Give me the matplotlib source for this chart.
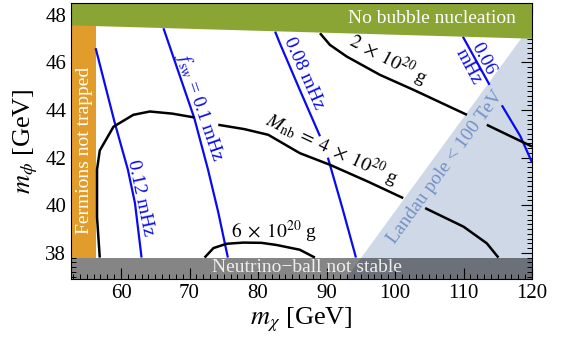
import numpy as np
import matplotlib.pyplot as plt
from matplotlib.ticker import MultipleLocator

plt.rcParams['font.family'] = ['Liberation Serif', 'DejaVu Serif']
plt.rcParams['mathtext.fontset'] = 'stix'

# plot window [GeV]
X_RANGE = (52.7, 120.0)
Y_RANGE = (36.9, 48.5)

# excluded / shaded regions
NO_NUCL_X = [52.7, 120.0]
NO_NUCL_Y = [47.58, 47.02]
NOT_TRAPPED_X = 56.3
NB_UNSTABLE_Y = 37.8
LANDAU_X = [92.8, 122.2]
LANDAU_Y = [36.9, 48.5]

# f_sw contours, each a list of segments of (m_chi, m_phi)
FSW_012 = [[(56.3, 46.6), (59.1, 43.45), (61.0, 41.5), (62.04, 40.09), (63.0, 37.8)]]
FSW_010 = [[(66.2, 47.44), (70.7, 43.66), (72.7, 41.5), (74.2, 39.7), (75.6, 37.8)]]
FSW_008 = [[(82.5, 47.3), (83.2, 46.8), (86.1, 44.85), (89.05, 42.9)],
           [(90.2, 42.0), (92.3, 39.9), (94.3, 37.8)]]
FSW_006 = [[(109.9, 47.09), (113.8, 45.06)],
           [(115.6, 44.2), (118.3, 42.9), (120.0, 41.8)]]

# neutrino-ball mass contours
MNB_2 = [[(89.05, 47.23), (90.5, 46.74), (92.95, 46.25), (97.8, 45.48),
          (102.7, 44.85), (110.5, 43.8)],
         [(113.4, 43.38), (116.5, 42.95), (120.0, 42.47)]]
MNB_4 = [[(56.9, 37.8), (56.5, 39.5), (56.5, 41.5), (56.9, 42.3), (58.9, 43.3),
          (61.8, 43.8), (64.2, 43.94), (67.5, 43.85), (70.7, 43.69)],
         [(74.2, 43.38), (78.0, 43.2), (81.5, 42.96), (86.1, 42.19),
          (90.5, 41.7), (96.0, 41.0), (101.2, 40.3)],
         [(104.4, 39.88), (110.0, 39.1), (113.4, 38.4), (115.1, 37.8)]]
MNB_6 = [[(72.2, 37.8), (73.5, 38.2), (75.4, 38.38), (77.85, 38.43),
          (80.5, 38.42), (82.7, 38.33), (86.1, 38.13), (88.3, 37.8)]]

BLUE = '#0a0af0'
GREEN = '#8ba535'
ORANGE = '#e29c2b'
LANDAU = '#cfd8e7'
LANDAU_TXT = '#7391c6'


def draw_segments(ax, segments, color, lw):
    for seg in segments:
        seg = np.array(seg)
        ax.plot(seg[:, 0], seg[:, 1], color=color, lw=lw, zorder=4,
                solid_capstyle='butt')


fig = plt.figure(figsize=(5.69, 3.39), dpi=100)
ax = fig.add_axes([71/569, 1 - 279/339, 461/569, 276/339])

# shaded regions
ax.fill([LANDAU_X[0], LANDAU_X[1], 130, 130], [LANDAU_Y[0], LANDAU_Y[1], LANDAU_Y[1], LANDAU_Y[0]],
        color=LANDAU, lw=0, zorder=1)
ax.fill_between([X_RANGE[0], NOT_TRAPPED_X], NB_UNSTABLE_Y, 48, color=ORANGE, lw=0, zorder=2)
ax.fill_between(NO_NUCL_X, NO_NUCL_Y, Y_RANGE[1], color=GREEN, lw=0, zorder=6)
ax.axhspan(Y_RANGE[0], NB_UNSTABLE_Y, color='black', alpha=0.48, lw=0, zorder=6)

for segs in (FSW_012, FSW_010, FSW_008, FSW_006):
    draw_segments(ax, segs, BLUE, 1.6)
for segs in (MNB_2, MNB_4, MNB_6):
    draw_segments(ax, segs, 'black', 1.8)

# contour labels
fs = 14
ax.text(62.77, 40.31, '0.12 mHz', color=BLUE, rotation=-78, fontsize=fs,
        ha='center', va='center', zorder=7)
ax.text(71.53, 44.13, r'$f_{\rm sw}$ = 0.1 mHz', color=BLUE, rotation=-71, fontsize=fs,
        ha='center', va='center', zorder=7)
ax.text(86.7, 45.56, '0.08 mHz', color=BLUE, rotation=-66, fontsize=fs,
        ha='center', va='center', zorder=7)
ax.text(111.8, 45.98, '0.06\nmHz', color=BLUE, rotation=-62, fontsize=fs,
        ha='center', va='center', linespacing=0.9, zorder=7)
ax.text(98.98, 46.1, r'$2\;\times\;10^{20}$ g', rotation=-28, fontsize=fs,
        ha='center', va='center', zorder=7)
ax.text(90.8, 42.32, r'$M_{\rm nb}\;=\;4\;\times\;10^{20}$ g', rotation=-25, fontsize=fs,
        ha='center', va='center', zorder=7)
ax.text(82.3, 38.86, r'$6\;\times\;10^{20}$ g', fontsize=fs,
        ha='center', va='center', zorder=7)

# region labels
ax.text(107.3, 41.61, 'Landau pole < 100 TeV', color=LANDAU_TXT, rotation=54, fontsize=fs,
        ha='center', va='center', zorder=7)
ax.text(105.4, 47.83, 'No bubble nucleation', color='white', fontsize=fs,
        ha='center', va='center', zorder=7)
ax.text(87.15, 37.37, 'Neutrino\u2212ball not stable', color='#eeeeee', fontsize=fs,
        ha='center', va='center', zorder=7)
ax.text(54.6, 42.32, 'Fermions not trapped', color='white', rotation=90, fontsize=fs,
        ha='center', va='center', zorder=7)

ax.set_xlim(*X_RANGE)
ax.set_ylim(*Y_RANGE)
ax.xaxis.set_major_locator(MultipleLocator(10))
ax.xaxis.set_minor_locator(MultipleLocator(1))
ax.yaxis.set_major_locator(MultipleLocator(2))
ax.yaxis.set_minor_locator(MultipleLocator(0.2))
ax.tick_params(which='both', direction='in', top=True, right=True, zorder=10)
ax.tick_params(which='major', length=8, width=0.8, labelsize=15)
ax.tick_params(which='minor', length=3.5, width=0.7)
for sp in ax.spines.values():
    sp.set_zorder(10)

ax.set_xlabel(r'$m_\chi$ [GeV]', fontsize=19, labelpad=2)
ax.set_ylabel(r'$m_\phi$ [GeV]', fontsize=19, labelpad=4)

fig.savefig('out.png', dpi=100)
